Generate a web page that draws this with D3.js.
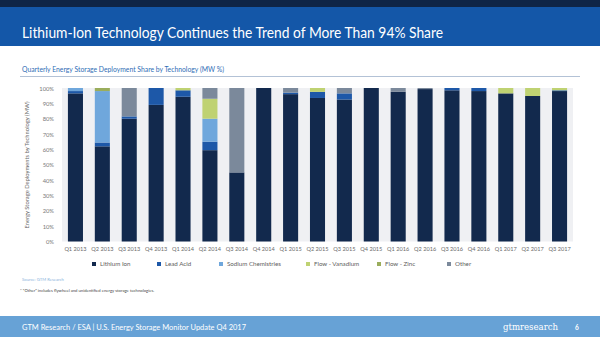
<!DOCTYPE html>
<html>
<head>
<meta charset="utf-8">
<script src="https://cdn.jsdelivr.net/npm/d3@7"></script>
<style>
  body { margin: 0; background: #fff; }
  svg { display: block; font-family: Lato, "Open Sans", sans-serif; }
</style>
</head>
<body>
<svg id="chart" width="600" height="337"></svg>
<script>
// quarters and share (%) per technology
const quarters = ["Q1 2013", "Q2 2013", "Q3 2013", "Q4 2013", "Q1 2014", "Q2 2014", "Q3 2014", "Q4 2014",
    "Q1 2015", "Q2 2015", "Q3 2015", "Q4 2015", "Q1 2016", "Q2 2016", "Q3 2016", "Q4 2016",
    "Q1 2017", "Q2 2017", "Q3 2017"];
const lithiumIon     = [96.5, 62, 80, 89, 94.3, 59.5, 45, 100, 96, 93.5, 92.5, 100, 97.5, 99.3, 98.5, 98, 96.5, 94.8, 98];
const leadAcid       = [1.5, 2.5, 1.5, 11, 4.2, 5.5, 0, 0, 1, 4, 4, 0, 0, 0, 1.5, 2, 0, 0, 0.5];
const sodium         = [2, 33.5, 0, 0, 0, 15, 0, 0, 0, 0, 0, 0, 0, 0, 0, 0, 0, 0, 0];
const flowVanadium   = [0, 0, 0, 0, 1.5, 13, 0, 0, 0, 2.5, 0, 0, 0, 0, 0, 0, 3.5, 5.2, 1.5];
const flowZinc       = [0, 2, 0, 0, 0, 0, 0, 0, 0, 0, 0, 0, 0, 0, 0, 0, 0, 0, 0];
const other          = [0, 0, 18.5, 0, 0, 7, 55, 0, 3, 0, 3.5, 0, 2.5, 0.7, 0, 0, 0, 0, 0];
const seriesNames = ["Lithium Ion", "Lead Acid", "Sodium Chemistries", "Flow - Vanadium", "Flow - Zinc", "Other"];
const yTicks = [0, 10, 20, 30, 40, 50, 60, 70, 80, 90, 100];

const colors = ["#12294d", "#1d58a8", "#6fa7dc", "#bfd272", "#9aad5c", "#7b899b"];
const seriesValues = [lithiumIon, leadAcid, sodium, flowVanadium, flowZinc, other];

let svg = d3.select("#chart");

// header bands
svg.append("rect").attr("x", 0).attr("y", 0).attr("width", 600).attr("height", 7).attr("fill", "#0f2546");
svg.append("rect").attr("x", 0).attr("y", 7).attr("width", 600).attr("height", 39).attr("fill", "#1457a8");
svg.append("text")
    .attr("x", 22).attr("y", 38)
    .attr("fill", "#fff")
    .attr("font-size", 16)
    .attr("textLength", 421).attr("lengthAdjust", "spacingAndGlyphs")
    .text("Lithium-Ion Technology Continues the Trend of More Than 94% Share");

// subtitle
svg.append("text")
    .attr("x", 22).attr("y", 72)
    .attr("fill", "#2f6db5")
    .attr("font-size", 7)
    .attr("textLength", 202).attr("lengthAdjust", "spacingAndGlyphs")
    .text("Quarterly Energy Storage Deployment Share by Technology (MW %)");
svg.append("line")
    .attr("x1", 20).attr("x2", 580).attr("y1", 76.5).attr("y2", 76.5)
    .attr("stroke", "#9fb3cc").attr("stroke-width", 0.8);

// plot
let table = quarters.map((q, i) => {
    let row = { quarter: q };
    seriesNames.forEach((s, j) => row[s] = seriesValues[j][i]);
    return row;
});
let stacked = d3.stack().keys(seriesNames)(table);

let xScale = d3.scaleBand()
    .domain(quarters)
    .range([62, 573])
    .paddingInner(0.44)
    .paddingOuter(0.22);

let yScale = d3.scaleLinear()
    .domain([0, 100])
    .range([241.5, 88]);

svg.append("rect")
    .attr("x", 62).attr("y", 88)
    .attr("width", 511).attr("height", 153.5)
    .attr("fill", "#eff0f3");

svg.append("g")
    .selectAll("g")
    .data(stacked)
    .enter()
    .append("g")
    .attr("fill", (d, i) => colors[i])
    .selectAll("rect")
    .data(d => d)
    .enter()
    .append("rect")
    .attr("x", d => xScale(d.data.quarter))
    .attr("width", xScale.bandwidth())
    .attr("y", d => yScale(d[1]))
    .attr("height", d => Math.max(0, yScale(d[0]) - yScale(d[1])));

// axes
let yAxis = svg.append("g")
    .attr("transform", "translate(57,0)")
    .call(d3.axisLeft(yScale).tickValues(yTicks).tickFormat(d => d + "%").tickSize(0));
yAxis.select(".domain").remove();
yAxis.selectAll("text")
    .attr("font-family", "Lato, sans-serif")
    .attr("font-size", 5.8)
    .attr("fill", "#7a7a7a")
    .attr("dy", "0.35em");

let xAxis = svg.append("g")
    .attr("transform", "translate(0,244)")
    .call(d3.axisBottom(xScale).tickSize(0));
xAxis.select(".domain").remove();
xAxis.selectAll("text")
    .attr("font-family", "Lato, sans-serif")
    .attr("font-size", 5.6)
    .attr("fill", "#6a6a6a");

svg.append("text")
    .attr("transform", "translate(29,165) rotate(-90)")
    .attr("text-anchor", "middle")
    .attr("font-size", 5.8)
    .attr("fill", "#6a6a6a")
    .text("Energy Storage Deployments by Technology (MW)");

// legend (item offsets follow the slide's spacing)
let legendOffsets = [0, 65, 127, 214, 285, 355];
let legend = svg.append("g").attr("transform", "translate(92,264)");
seriesNames.forEach((name, i) => {
    let item = legend.append("g").attr("transform", `translate(${legendOffsets[i]},0)`);
    item.append("rect")
        .attr("x", 0).attr("y", -2)
        .attr("width", 4).attr("height", 4)
        .attr("fill", colors[i]);
    item.append("text")
        .attr("x", 8).attr("y", 0)
        .attr("dy", "0.35em")
        .attr("font-size", 6.2)
        .attr("fill", "#606060")
        .text(name);
});

// source + note
svg.append("text")
    .attr("x", 22).attr("y", 281)
    .attr("font-size", 4.2)
    .attr("fill", "#8ab4dc")
    .text("Source: GTM Research");
svg.append("text")
    .attr("x", 20).attr("y", 292)
    .attr("font-size", 4.2)
    .attr("fill", "#444")
    .text("* \u201cOther\u201d includes flywheel and unidentified energy storage technologies.");

// footer
svg.append("rect").attr("x", 0).attr("y", 316).attr("width", 600).attr("height", 21).attr("fill", "#67a2d6");
svg.append("text")
    .attr("x", 22).attr("y", 330)
    .attr("fill", "#fff")
    .attr("font-size", 8)
    .attr("textLength", 224).attr("lengthAdjust", "spacingAndGlyphs")
    .text("GTM Research / ESA | U.S. Energy Storage Monitor Update Q4 2017");
svg.append("text")
    .attr("x", 503).attr("y", 330)
    .attr("fill", "#fff")
    .attr("font-family", "DejaVu Serif, serif")
    .attr("font-size", 9.5)
    .attr("textLength", 55).attr("lengthAdjust", "spacingAndGlyphs")
    .text("gtmresearch");
svg.append("text")
    .attr("x", 575).attr("y", 330)
    .attr("fill", "#fff")
    .attr("font-size", 6.5)
    .attr("font-weight", "bold")
    .text("6");
</script>
</body>
</html>
